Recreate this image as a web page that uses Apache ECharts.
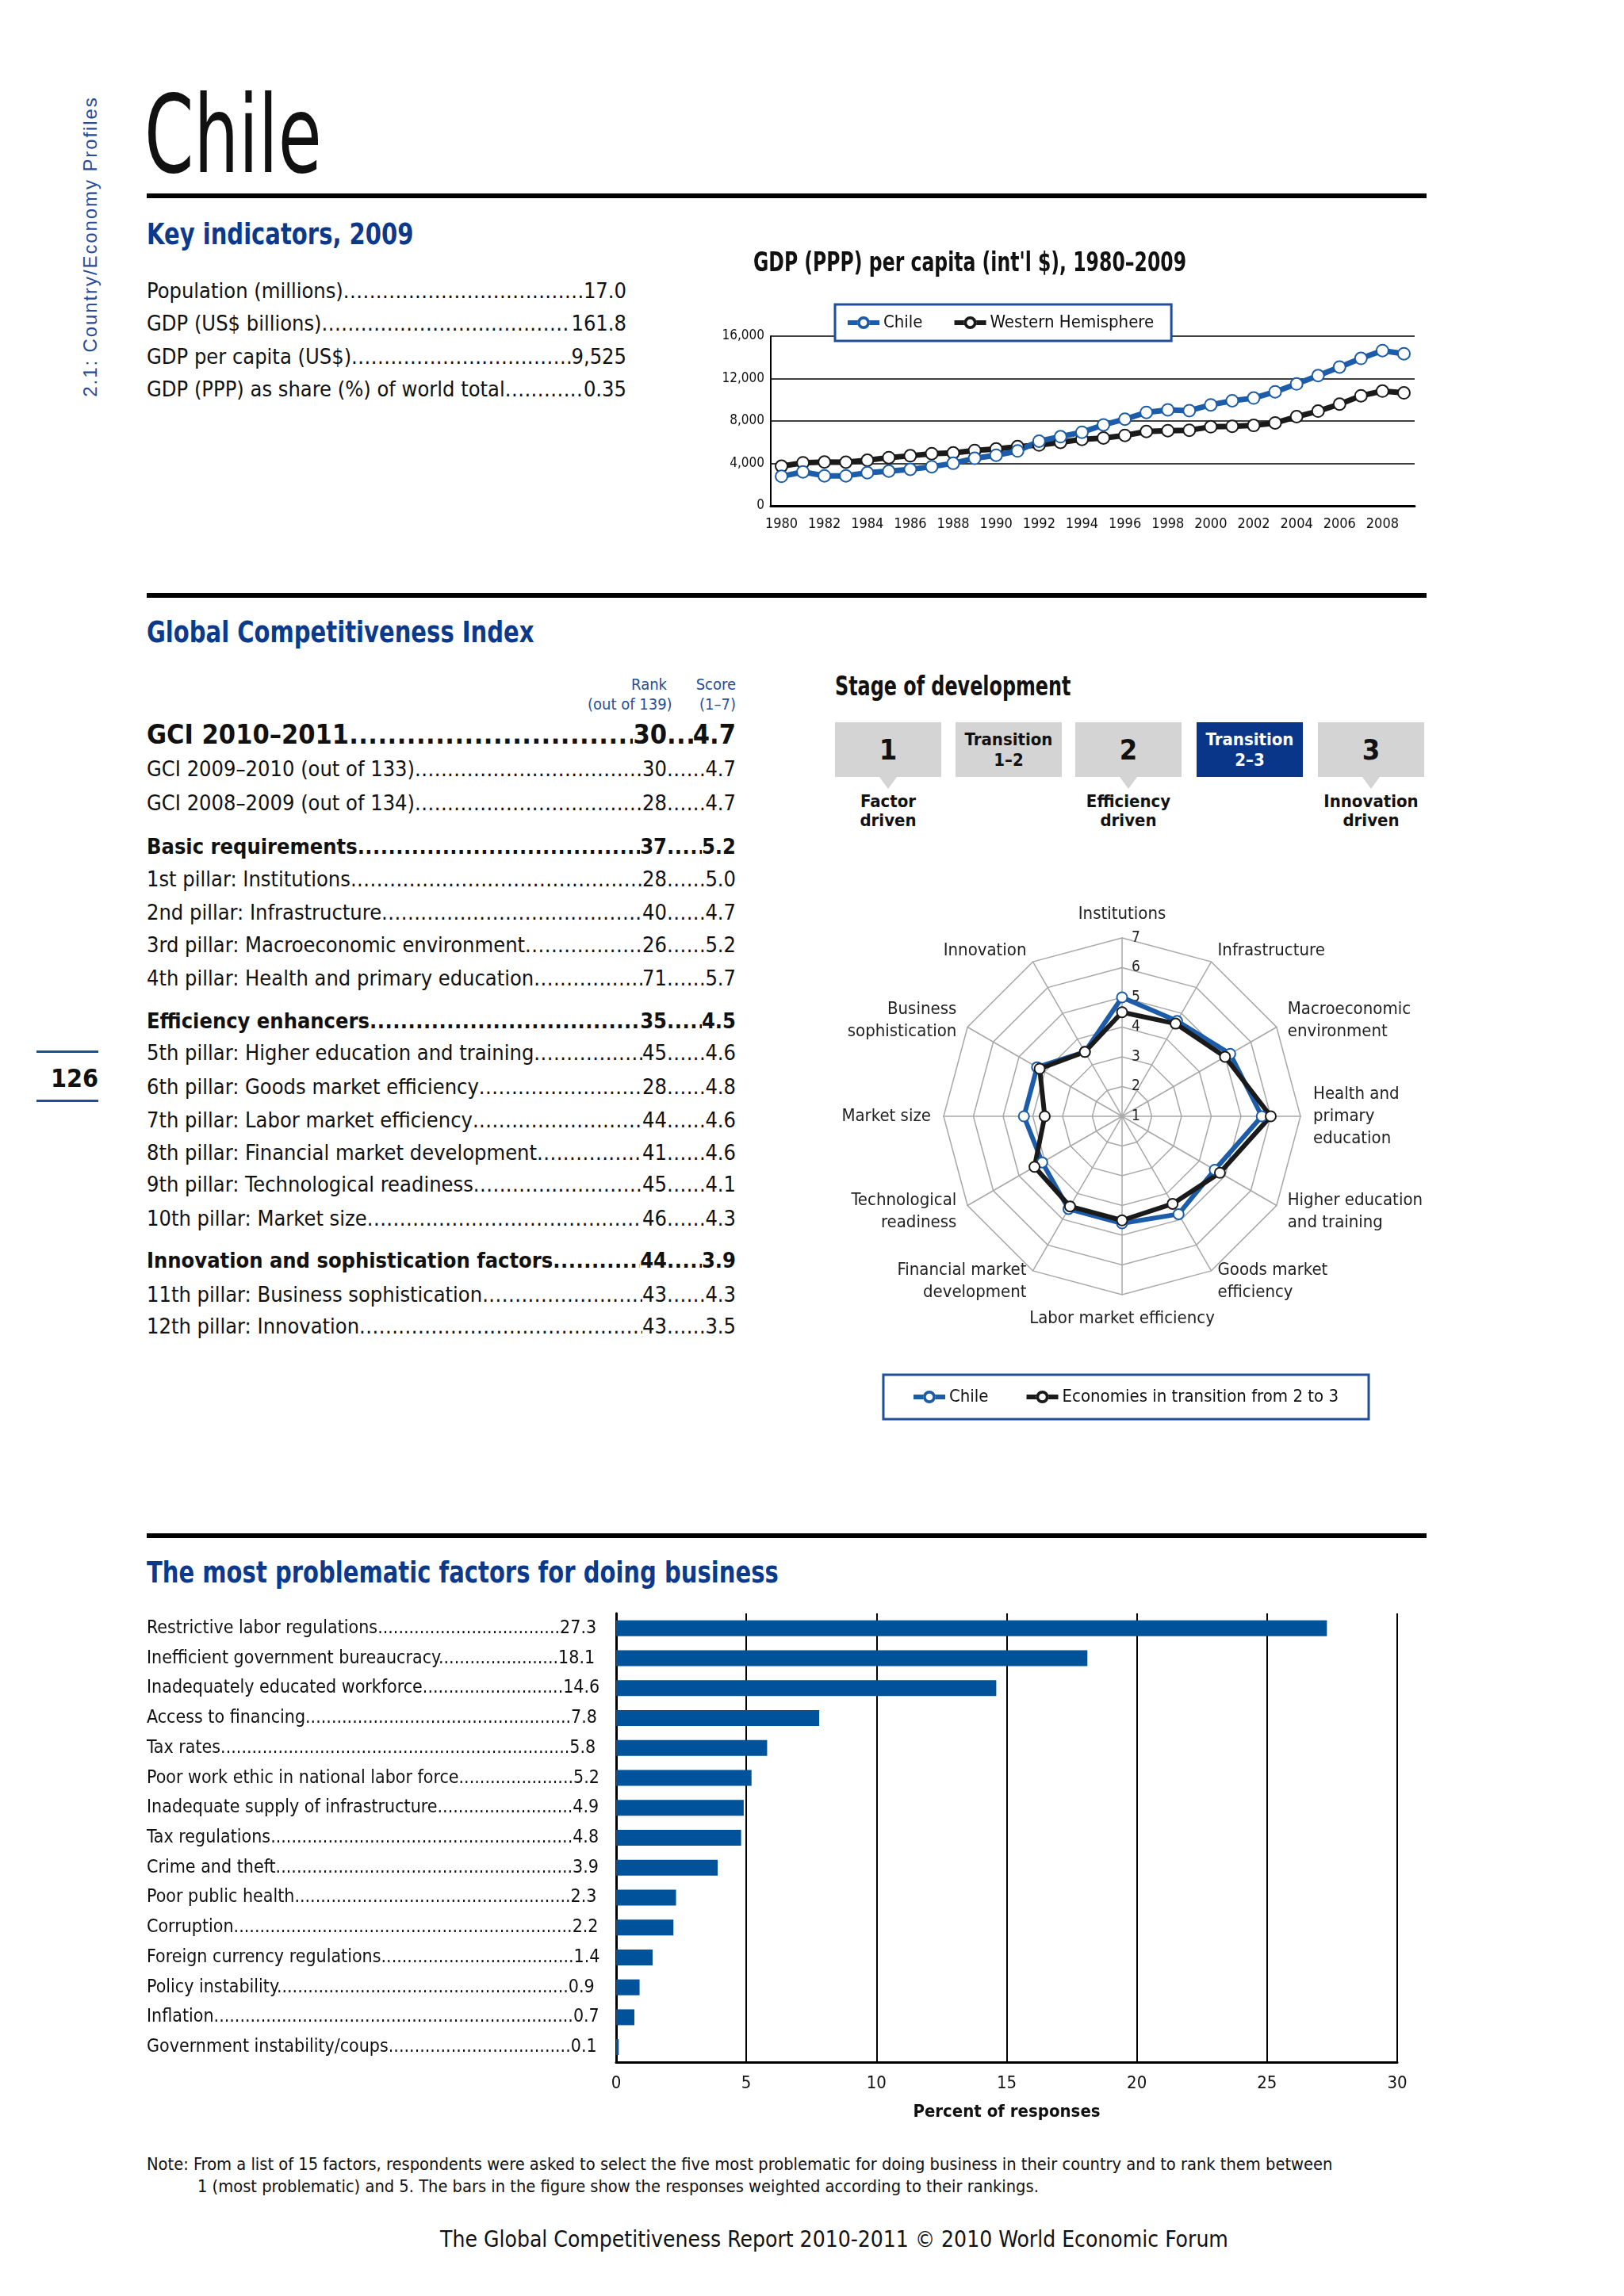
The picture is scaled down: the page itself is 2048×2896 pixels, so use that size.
<!DOCTYPE html>
<html>
<head>
<meta charset="utf-8">
<title>Chile</title>
<script src="https://cdn.jsdelivr.net/npm/echarts@6/dist/echarts.min.js"></script>
<style>
body{margin:0;width:2048px;height:2896px;position:relative;background:#fff;color:#111;overflow:hidden;
  font-family:'Liberation Sans Narrow','DejaVu Sans Condensed','Roboto Condensed','Arial Narrow',Roboto,sans-serif}
.abs{position:absolute;white-space:nowrap}
.rule{position:absolute;left:185px;width:1614px;height:6px;background:#000}
.h2{font-size:38px;line-height:50px;font-weight:bold;color:#0b3a8c;transform:scaleX(0.85);transform-origin:0 50%}
.row{position:absolute;display:flex;white-space:nowrap}
.lead{flex:1 1 0;min-width:0;overflow:hidden;letter-spacing:0.5px}
.box{position:absolute;top:911px;width:134px;height:69px;background:#d4d4d4;display:flex;align-items:center;justify-content:center;text-align:center;font-weight:bold}
.tri{position:absolute;top:980px;width:0;height:0;border-left:11px solid transparent;border-right:11px solid transparent;border-top:15px solid #d4d4d4}
.stage{position:absolute;top:999px;width:200px;text-align:center;font-size:22px;line-height:24px;font-weight:bold}
</style>
</head>
<body>
<div class="abs" style="left:114px;top:311px;transform:translate(-50%,-50%) rotate(-90deg);font-family:'Liberation Sans',Arial,sans-serif;font-size:24px;letter-spacing:1.9px;color:#2b4c9b">2.1: Country/Economy Profiles</div>
<div class="abs" style="left:182px;top:102px;font-size:136px;line-height:136px;transform:scaleX(0.73);transform-origin:0 50%">Chile</div>
<div class="rule" style="top:244px"></div>
<div class="abs h2" style="left:185px;top:270px">Key indicators, 2009</div>
<div id="keyTable"></div>

<div id="gdpChart" style="position:absolute;left:880px;top:300px;width:940px;height:400px"></div>
<div class="abs" style="left:950px;top:308px;font-size:34px;line-height:44px;font-weight:bold;transform:scaleX(0.77);transform-origin:0 50%">GDP (PPP) per capita (int'l $), 1980–2009</div>

<div class="rule" style="top:748px"></div>
<div class="abs h2" style="left:185px;top:772px">Global Competitiveness Index</div>
<div class="abs" style="left:741px;top:851px;width:100px;text-align:right;font-size:20px;line-height:25px;color:#1f4e9c">Rank<br>(out of 139)</div>
<div class="abs" style="left:828px;top:851px;width:100px;text-align:right;font-size:20px;line-height:25px;color:#1f4e9c">Score<br>(1–7)</div>
<div id="gciTable"></div>

<div class="abs" style="left:1053px;top:843px;font-size:34px;line-height:44px;font-weight:bold;transform:scaleX(0.78);transform-origin:0 50%">Stage of development</div>
<div id="stages"></div>

<div id="radarChart" style="position:absolute;left:1030px;top:1110px;width:780px;height:700px"></div>

<div class="abs" style="left:46px;top:1325px;width:78px;height:3px;background:#1f4e9c"></div>
<div class="abs" style="left:24px;top:1342px;width:100px;text-align:right;font-size:32px;line-height:36px;font-weight:bold">126</div>
<div class="abs" style="left:46px;top:1387px;width:78px;height:3px;background:#1f4e9c"></div>

<div class="rule" style="top:1934px"></div>
<div class="abs h2" style="left:185px;top:1958px">The most problematic factors for doing business</div>
<div id="barChart" style="position:absolute;left:170px;top:2020px;width:1630px;height:680px"></div>

<div class="abs" style="left:185px;top:2716px;font-size:21.7px;line-height:28px">Note: From a list of 15 factors, respondents were asked to select the five most problematic for doing business in their country and to rank them between<br><span style="padding-left:64px">1 (most problematic) and 5. The bars in the figure show the responses weighted according to their rankings.</span></div>
<div class="abs" style="left:1052px;top:2808px;transform:translateX(-50%);font-size:28px;line-height:34px">The Global Competitiveness Report 2010-2011 © 2010 World Economic Forum</div>

<script>
const FONT = "'Liberation Sans Narrow','DejaVu Sans Condensed','Roboto Condensed','Arial Narrow',Roboto,sans-serif";

// key indicators
const keyLabels = ['Population (millions)', 'GDP (US$ billions)', 'GDP per capita (US$)', 'GDP (PPP) as share (%) of world total'];
const keyValues = ['17.0', '161.8', '9,525', '0.35'];

// GCI table
const gciLabels = ['GCI 2010–2011', 'GCI 2009–2010 (out of 133)', 'GCI 2008–2009 (out of 134)',
  'Basic requirements', '1st pillar: Institutions', '2nd pillar: Infrastructure', '3rd pillar: Macroeconomic environment', '4th pillar: Health and primary education',
  'Efficiency enhancers', '5th pillar: Higher education and training', '6th pillar: Goods market efficiency', '7th pillar: Labor market efficiency',
  '8th pillar: Financial market development', '9th pillar: Technological readiness', '10th pillar: Market size',
  'Innovation and sophistication factors', '11th pillar: Business sophistication', '12th pillar: Innovation'];
const gciRanks = ['30', '30', '28', '37', '28', '40', '26', '71', '35', '45', '28', '44', '41', '45', '46', '44', '43', '43'];
const gciScores = ['4.7', '4.7', '4.7', '5.2', '5.0', '4.7', '5.2', '5.7', '4.5', '4.6', '4.8', '4.6', '4.6', '4.1', '4.3', '3.9', '4.3', '3.5'];
const gciBold = [true, false, false, true, false, false, false, false, true, false, false, false, false, false, false, true, false, false];
const gciRowY = [926, 970, 1013, 1068, 1109, 1151, 1192, 1234, 1288, 1328, 1371, 1413, 1454, 1494, 1537, 1590, 1633, 1673];

// stage of development
const stageBoxes = ['1', 'Transition<br>1–2', '2', 'Transition<br>2–3', '3'];
const stageNames = ['Factor<br>driven', '', 'Efficiency<br>driven', '', 'Innovation<br>driven'];
const stageCurrent = 3;

// GDP (PPP) per capita
const years = ['1980','1981','1982','1983','1984','1985','1986','1987','1988','1989','1990','1991','1992','1993','1994',
  '1995','1996','1997','1998','1999','2000','2001','2002','2003','2004','2005','2006','2007','2008','2009'];
const chileGdp = [2780, 3200, 2830, 2830, 3120, 3270, 3440, 3690, 4010, 4480, 4770, 5170, 6100, 6520, 6940,
  7630, 8170, 8810, 9050, 8980, 9520, 9910, 10160, 10750, 11490, 12280, 13090, 13900, 14640, 14340];
const westernGdp = [3740, 4060, 4130, 4110, 4300, 4550, 4720, 4920, 4990, 5220, 5360, 5580, 5730, 5980, 6270,
  6400, 6640, 7010, 7090, 7130, 7450, 7500, 7580, 7820, 8410, 8930, 9590, 10380, 10820, 10650];

// radar (clockwise from top)
const radarNames = ['Institutions', 'Infrastructure', 'Macroeconomic\nenvironment', 'Health and\nprimary\neducation',
  'Higher education\nand training', 'Goods market\nefficiency', 'Labor market efficiency', 'Financial market\ndevelopment',
  'Technological\nreadiness', 'Market size', 'Business\nsophistication', 'Innovation'];
const chileScore = [5.0, 4.7, 5.2, 5.7, 4.6, 4.8, 4.6, 4.6, 4.1, 4.3, 4.3, 3.5];
const transitionScore = [4.5, 4.6, 5.0, 6.0, 4.8, 4.4, 4.5, 4.5, 4.4, 3.6, 4.2, 3.5];

// problematic factors
const factorNames = ['Restrictive labor regulations', 'Inefficient government bureaucracy', 'Inadequately educated workforce',
  'Access to financing', 'Tax rates', 'Poor work ethic in national labor force', 'Inadequate supply of infrastructure',
  'Tax regulations', 'Crime and theft', 'Poor public health', 'Corruption', 'Foreign currency regulations',
  'Policy instability', 'Inflation', 'Government instability/coups'];
const factorValues = [27.3, 18.1, 14.6, 7.8, 5.8, 5.2, 4.9, 4.8, 3.9, 2.3, 2.2, 1.4, 0.9, 0.7, 0.1];

// ---------- html tables ----------
function span(text, css) {
  let s = document.createElement('span');
  s.textContent = text;
  if (css) s.style.cssText = css;
  return s;
}
function dots(css) {
  let s = span('.'.repeat(300), css);
  s.className = 'lead';
  return s;
}
function makeRow(left, cy, width, fs, bold) {
  let r = document.createElement('div');
  r.className = 'row';
  r.style.cssText = 'left:' + left + 'px;top:' + (cy - 20) + 'px;width:' + width + 'px;height:40px;line-height:40px;font-size:' + fs + 'px;font-weight:' + (bold ? 'bold' : 'normal');
  return r;
}

let keyTable = document.getElementById('keyTable');
let keyRowY = [367, 408, 450, 491];
keyLabels.forEach(function (name, i) {
  let r = makeRow(185, keyRowY[i], 605, 27, false);
  r.appendChild(span(name));
  r.appendChild(dots());
  r.appendChild(span(keyValues[i]));
  keyTable.appendChild(r);
});

let gciTable = document.getElementById('gciTable');
gciLabels.forEach(function (name, i) {
  let fs = i == 0 ? 34 : 27;
  let r = makeRow(185, gciRowY[i], 743, fs, gciBold[i]);
  r.appendChild(span(name));
  r.appendChild(dots());
  r.appendChild(span(gciRanks[i]));
  let sc = document.createElement('span');
  sc.style.cssText = 'display:flex;width:87px;flex:none';
  sc.appendChild(dots());
  sc.appendChild(span(gciScores[i]));
  r.appendChild(sc);
  gciTable.appendChild(r);
});

let stages = document.getElementById('stages');
let boxX = [1053, 1205, 1356, 1509, 1662];
stageBoxes.forEach(function (txt, i) {
  let b = document.createElement('div');
  b.className = 'box';
  b.style.left = boxX[i] + 'px';
  if (txt.length > 2) { b.style.fontSize = '22px'; b.style.lineHeight = '26px'; }
  else b.style.fontSize = '36px';
  if (i == stageCurrent) { b.style.background = '#0a3689'; b.style.color = '#fff'; }
  b.innerHTML = txt;
  stages.appendChild(b);
  if (stageNames[i]) {
    let t = document.createElement('div');
    t.className = 'tri';
    t.style.left = (boxX[i] + 56) + 'px';
    stages.appendChild(t);
    let l = document.createElement('div');
    l.className = 'stage';
    l.style.left = (boxX[i] + 67 - 100) + 'px';
    l.innerHTML = stageNames[i];
    stages.appendChild(l);
  }
});

// ---------- GDP line chart ----------
const CHILE_BLUE = '#1c5ca8';
const DARK = '#1a1a1a';
// legend icon: thick line with an open circle in the middle
const LINE_DOT = 'path://M0,5L12.3,5L12.3,11L0,11Z M27.7,5L40,5L40,11L27.7,11Z M28,8A8,8 0 1,0 12,8A8,8 0 1,0 28,8Z M24.3,8A4.3,4.3 0 1,1 15.7,8A4.3,4.3 0 1,1 24.3,8Z';

let gdpChart = echarts.init(document.getElementById('gdpChart'));
gdpChart.setOption({
  animation: false,
  textStyle: { fontFamily: FONT },
  legend: {
    data: [{ name: 'Chile', icon: LINE_DOT }, { name: 'Western Hemisphere', icon: LINE_DOT }],
    left: 173, top: 84,
    backgroundColor: '#fff',
    borderColor: '#1f4e9c', borderWidth: 3,
    padding: [12, 22, 12, 16],
    itemGap: 40, itemWidth: 40, itemHeight: 16,
    textStyle: { fontSize: 22, color: '#111', fontFamily: FONT }
  },
  grid: { left: 92, right: 36, top: 124, bottom: 62 },
  xAxis: {
    type: 'category',
    data: years,
    boundaryGap: true,
    axisLine: { lineStyle: { color: '#000', width: 3 } },
    axisTick: { alignWithLabel: true, interval: 0, length: 6, lineStyle: { color: '#000', width: 2 } },
    axisLabel: { interval: 1, fontSize: 18, color: '#111', margin: 14, fontFamily: FONT }
  },
  yAxis: {
    type: 'value',
    min: 0, max: 16000, interval: 4000,
    axisLine: { show: true, lineStyle: { color: '#000', width: 2 } },
    axisTick: { show: false },
    splitLine: { lineStyle: { color: '#000', width: 1.5 } },
    axisLabel: {
      fontSize: 17, color: '#111', margin: 8, fontFamily: FONT,
      formatter: function (v) { return v.toLocaleString('en-US'); }
    }
  },
  series: [
    {
      name: 'Western Hemisphere', type: 'line', data: westernGdp,
      symbol: 'emptyCircle', symbolSize: 15,
      lineStyle: { color: DARK, width: 7 },
      itemStyle: { color: DARK, borderWidth: 3.5 }
    },
    {
      name: 'Chile', type: 'line', data: chileGdp,
      symbol: 'emptyCircle', symbolSize: 15,
      lineStyle: { color: CHILE_BLUE, width: 7 },
      itemStyle: { color: CHILE_BLUE, borderWidth: 3.5 }
    }
  ]
});

// ---------- radar ----------
// echarts lays indicators out counter-clockwise, so reverse all but the first
let order = [0];
for (let i = radarNames.length - 1; i > 0; i--) order.push(i);

let radarChart = echarts.init(document.getElementById('radarChart'));
radarChart.setOption({
  animation: false,
  textStyle: { fontFamily: FONT },
  legend: {
    data: [{ name: 'Chile', icon: LINE_DOT }, { name: 'Economies in transition from 2 to 3', icon: LINE_DOT }],
    left: 'center', top: 624,
    borderColor: '#1f4e9c', borderWidth: 3,
    padding: [17, 38, 17, 38],
    itemGap: 48, itemWidth: 40, itemHeight: 16,
    textStyle: { fontSize: 22, color: '#111', fontFamily: FONT }
  },
  radar: {
    center: [385, 298],
    radius: 225,
    startAngle: 90,
    splitNumber: 6,
    shape: 'polygon',
    nameGap: 16,
    axisName: { color: '#222', fontSize: 22, lineHeight: 28, fontFamily: FONT },
    splitLine: { lineStyle: { color: '#a8a8a8', width: 1.5 } },
    splitArea: { show: false },
    axisLine: { lineStyle: { color: '#a8a8a8', width: 1.5 } },
    axisTick: { show: false },
    axisLabel: { show: false },
    indicator: order.map(function (i) {
      let ind = { name: radarNames[i], min: 1, max: 7 };
      if (i == 0) ind.axisLabel = { show: true, fontSize: 19, color: '#222', fontFamily: FONT, align: 'left', margin: -12 };
      return ind;
    })
  },
  series: [{
    type: 'radar',
    symbol: 'emptyCircle',
    symbolSize: 13,
    data: [
      {
        name: 'Chile', value: order.map(function (i) { return chileScore[i]; }),
        lineStyle: { color: CHILE_BLUE, width: 6 },
        itemStyle: { color: CHILE_BLUE, borderWidth: 3 }
      },
      {
        name: 'Economies in transition from 2 to 3', value: order.map(function (i) { return transitionScore[i]; }),
        lineStyle: { color: DARK, width: 6 },
        itemStyle: { color: DARK, borderWidth: 3 }
      }
    ]
  }]
});

// ---------- bar chart ----------
let measure = document.createElement('canvas').getContext('2d');
measure.font = '23px ' + FONT;
function withLeader(name, value, width) {
  let v = value.toFixed(1);
  let free = width - measure.measureText(name).width - measure.measureText(v).width;
  let n = Math.max(2, Math.floor(free / measure.measureText('.').width));
  return name + '.'.repeat(n) + v;
}

let barChart = echarts.init(document.getElementById('barChart'));
barChart.setOption({
  animation: false,
  textStyle: { fontFamily: FONT },
  grid: { left: 607, right: 38, top: 15, bottom: 99 },
  xAxis: {
    type: 'value',
    min: 0, max: 30, interval: 5,
    name: 'Percent of responses',
    nameLocation: 'middle',
    nameGap: 52,
    nameTextStyle: { fontSize: 22, fontWeight: 'bold', color: '#111', fontFamily: FONT },
    axisLine: { show: true, lineStyle: { color: '#000', width: 3 } },
    axisTick: { show: false },
    splitLine: { lineStyle: { color: '#000', width: 2 } },
    axisLabel: { fontSize: 22, color: '#111', margin: 16, fontFamily: FONT }
  },
  yAxis: {
    type: 'category',
    inverse: true,
    data: factorNames,
    axisLine: { show: true, lineStyle: { color: '#000', width: 3 } },
    axisTick: { show: false },
    axisLabel: {
      align: 'left', margin: 592, fontSize: 23, color: '#111', fontFamily: FONT,
      formatter: function (v, i) { return withLeader(v, factorValues[i], 572); }
    }
  },
  series: [{
    type: 'bar',
    data: factorValues,
    barWidth: 20,
    itemStyle: { color: '#00529b' }
  }]
});
</script>
</body>
</html>
